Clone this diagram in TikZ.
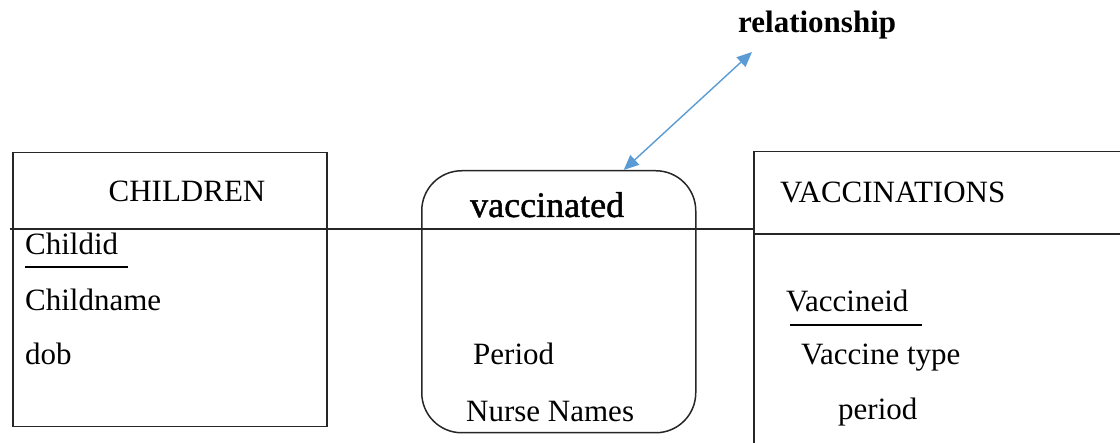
\documentclass[tikz,border=0pt]{standalone}
\usepackage{fontspec}
\setmainfont{Liberation Serif}
\newfontfamily\heavyserif[FakeBold=1.2]{Liberation Serif}
\usetikzlibrary{arrows.meta}
\definecolor{linkblue}{HTML}{5B9BD5}
\begin{document}
\begin{tikzpicture}[x=1pt,y=-1pt,
  box/.style={draw=black!85, line width=1.5pt, inner sep=0pt, anchor=north west},
  attr/.style={inner sep=0pt, anchor=base west, font=\fontsize{31}{36}\selectfont},
  rule/.style={draw=black!85, line width=1.5pt},
  keyline/.style={draw=black, line width=1.2pt},
  link/.style={draw=linkblue, line width=1.4pt,
    {Triangle[length=15pt,width=13pt]}-{Triangle[length=15pt,width=13pt]}}]
\useasboundingbox (0,0) rectangle (1120,443);
\clip (0,0) rectangle (1120,443);

% entity and relationship boxes
\node[box, minimum width=314pt, minimum height=274pt] (children) at (12,152) {};
\node[box, rounded corners=40pt, minimum width=274pt, minimum height=262pt] (rel) at (421,170) {};
\node[box, minimum width=400pt, minimum height=330pt] (vacc) at (753,151) {};

% dividing lines
\coordinate (divL) at (10,229);
\draw[rule] (divL) -- (vacc.west |- divL);
\coordinate (divV) at (753,234);
\draw[rule] (divV) -- (vacc.east |- divV);

% titles
\node[attr, anchor=base] (tchildren) at (187,202) {CHILDREN};
\node[inner sep=0pt, anchor=base west, font=\fontsize{36}{40}\heavyserif] (trel) at (470,217) {vaccinated};
\node[attr] (tvacc) at (780,203) {VACCINATIONS};
\node[inner sep=0pt, anchor=base west, font=\fontsize{31}{36}\bfseries] (note) at (738,33) {relationship};

% CHILDREN attributes
\node[attr] (childid) at (25,255) {Childid};
\node[attr] (childname) at (25,311) {Childname};
\node[attr] (dob) at (25,365) {dob};
\draw[keyline] ([yshift=-12pt]childid.base west) -- ++(103,0);

% relationship attributes
\node[attr] (period) at (473,365) {Period};
\node[attr] (nurse) at (466,422) {Nurse Names};

% VACCINATIONS attributes
\node[attr] (vid) at (786,312) {Vaccineid};
\node[attr] (vtype) at (801,365) {Vaccine type};
\node[attr] (vperiod) at (838,420) {period};
\draw[keyline] ([shift={(4pt,-13pt)}]vid.base west) -- ++(132,0);

% pointer from the label to the relationship box
\coordinate (notetip) at (752,52);
\draw[link] ([xshift=65pt]rel.north) -- (notetip);
\end{tikzpicture}
\end{document}
